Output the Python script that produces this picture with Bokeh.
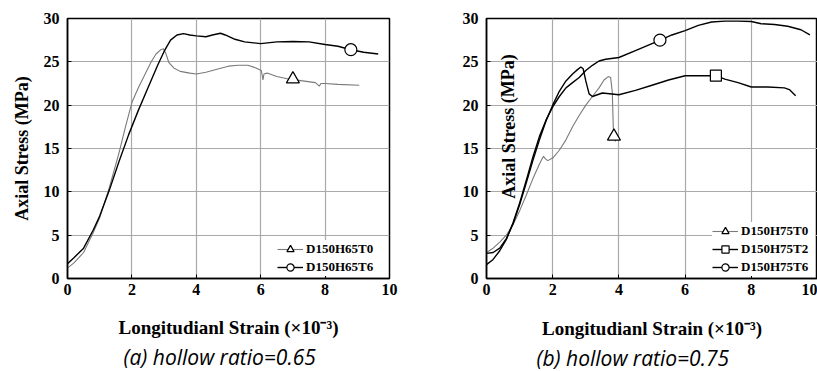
from bokeh.plotting import figure
from bokeh.models import Range1d, FixedTicker, Label, Legend, LegendItem, Title
from bokeh.layouts import row
from bokeh.embed import file_html
from bokeh.resources import INLINE

# ---------------- data: (a) hollow ratio = 0.65 ----------------
a_t0_x = [0, 0.2, 0.5, 0.8, 1.0, 1.3, 1.6, 1.8, 2.0, 2.2, 2.4, 2.6, 2.75, 2.9, 2.98,
          3.05, 3.15, 3.3, 3.5, 3.8, 4.0, 4.3, 4.7, 5.0, 5.3, 5.6, 5.85, 6.02, 6.07,
          6.1, 6.2, 6.5, 6.9, 7.3, 7.7, 7.82, 7.87, 8.0, 8.4, 9.06]
a_t0_y = [1.2, 1.8, 3.0, 5.3, 7.0, 10.5, 14.5, 17.5, 20.3, 22.0, 23.5, 25.0, 25.9, 26.4, 26.5,
          26.0, 24.9, 24.3, 23.9, 23.7, 23.6, 23.8, 24.2, 24.5, 24.6, 24.6, 24.3, 24.0, 22.9,
          23.6, 23.7, 23.3, 23.0, 22.8, 22.6, 22.2, 22.5, 22.5, 22.4, 22.3]
a_t6_x = [0, 0.2, 0.5, 0.8, 1.0, 1.3, 1.6, 1.9, 2.2, 2.5, 2.8, 3.0, 3.2, 3.4, 3.6, 3.8,
          4.0, 4.3, 4.5, 4.75, 4.9, 5.2, 5.5, 6.0, 6.5, 7.0, 7.5, 8.0, 8.4, 8.8, 9.2, 9.65]
a_t6_y = [1.7, 2.4, 3.5, 5.6, 7.2, 10.2, 13.5, 16.6, 19.4, 22.0, 24.6, 26.2, 27.5, 28.1, 28.25, 28.1,
          28.0, 27.9, 28.1, 28.3, 28.1, 27.6, 27.3, 27.1, 27.3, 27.35, 27.3, 27.0, 26.8, 26.4, 26.1, 25.9]
a_t0_mark = ([7.0], [23.0])
a_t6_mark = ([8.8], [26.4])
a_labels = ["D150H65T0", "D150H65T6"]

# ---------------- data: (b) hollow ratio = 0.75 ----------------
b_t0_x = [0, 0.2, 0.4, 0.6, 0.8, 1.0, 1.2, 1.4, 1.6, 1.72, 1.78, 1.85, 2.0, 2.2, 2.4, 2.6,
          2.8, 3.0, 3.2, 3.4, 3.55, 3.68, 3.75, 3.8, 3.83, 3.86, 3.9]
b_t0_y = [3.0, 3.5, 4.2, 5.0, 6.2, 7.8, 9.6, 11.5, 13.2, 14.1, 13.8, 13.6, 13.9, 14.8, 16.0, 17.5,
          18.8, 20.0, 21.0, 22.0, 22.9, 23.3, 23.2, 21.5, 17.5, 16.2, 15.8]
b_t2_x = [0, 0.2, 0.4, 0.6, 0.8, 1.0, 1.2, 1.4, 1.6, 1.8, 2.0, 2.2, 2.4, 2.6, 2.75, 2.85,
          2.92, 3.0, 3.1, 3.2, 3.5, 4.0, 4.5, 5.0, 5.5, 6.0, 6.5, 6.93, 7.2, 7.6, 8.0, 8.5,
          9.0, 9.15, 9.34]
b_t2_y = [2.9, 3.0, 3.5, 4.6, 6.3, 8.5, 11.0, 13.6, 16.0, 18.2, 20.0, 21.6, 22.8, 23.6, 24.1, 24.4,
          24.2, 22.8, 21.3, 21.0, 21.4, 21.2, 21.7, 22.3, 22.9, 23.4, 23.4, 23.4, 23.0, 22.6, 22.1, 22.1,
          22.0, 21.8, 21.1]
b_t6_x = [0, 0.2, 0.4, 0.6, 0.8, 1.0, 1.2, 1.4, 1.6, 1.8, 2.0, 2.2, 2.4, 2.6, 2.8, 3.0,
          3.2, 3.4, 3.6, 4.0, 4.5, 5.0, 5.25, 5.6, 6.0, 6.4, 6.8, 7.2, 7.6, 8.0, 8.3, 8.7,
          9.1, 9.5, 9.77]
b_t6_y = [1.6, 2.2, 3.2, 4.5, 6.4, 8.7, 11.3, 14.0, 16.4, 18.3, 19.8, 21.0, 22.0, 22.6, 23.2, 24.0,
          24.6, 25.1, 25.3, 25.5, 26.3, 27.1, 27.5, 28.1, 28.6, 29.2, 29.6, 29.7, 29.7, 29.65, 29.4, 29.3,
          29.1, 28.7, 28.1]
b_t0_mark = ([3.85], [16.4])
b_t2_mark = ([6.93], [23.4])
b_t6_mark = ([5.24], [27.5])
b_labels = ["D150H75T0", "D150H75T2", "D150H75T6"]

x_ticks = [0, 2, 4, 6, 8, 10]
y_ticks = [0, 5, 10, 15, 20, 25, 30]
x_title = "Longitudianl Strain (\u00d710\u207b\u00b3)"
y_title = "Axial Stress (MPa)"
captions = ["(a) hollow ratio=0.65", "(b) hollow ratio=0.75"]

SERIF = "Liberation Serif"
SANS = "Open Sans"
GRAY = "#7a7a7a"
H = 371


def make_fig(width, bl, br, bt, bb, xl_standoff):
    p = figure(width=width, height=H, x_range=Range1d(0, 10), y_range=Range1d(0, 30),
               output_backend="svg", toolbar_location=None,
               min_border_left=bl, min_border_right=br, min_border_top=bt, min_border_bottom=bb)
    p.xaxis.ticker = FixedTicker(ticks=x_ticks)
    p.yaxis.ticker = FixedTicker(ticks=y_ticks)
    for ax in (p.xaxis, p.yaxis):
        ax.axis_line_color = "black"
        ax.axis_line_width = 1.5
        ax.major_tick_in = 4
        ax.major_tick_out = 0
        ax.major_tick_line_color = "black"
        ax.minor_tick_line_color = None
        ax.major_label_text_font = SERIF
        ax.major_label_text_font_style = "bold"
        ax.major_label_text_font_size = "16px"
        ax.major_label_text_color = "black"
        ax.axis_label_text_font = SERIF
        ax.axis_label_text_font_style = "bold"
        ax.axis_label_text_font_size = "18px"
        ax.axis_label_text_color = "black"
        ax.axis_label_text_line_height = 1.0
        ax.major_label_text_line_height = 1.0
    p.xaxis.axis_label_text_font_size = "19px"
    p.xaxis.major_label_standoff = 5
    p.yaxis.major_label_standoff = 8
    p.xaxis.axis_label = x_title
    p.xaxis.axis_label_standoff = xl_standoff
    p.grid.grid_line_color = "#a9a9a9"
    p.grid.grid_line_width = 1.2
    p.outline_line_color = "black"
    p.outline_line_width = 1.5
    p.background_fill_color = "white"
    p.border_fill_color = "white"
    return p


def caption(p, text, standoff, offset):
    p.add_layout(Title(text=text, align="left", offset=offset, text_font=SANS,
                       text_font_style="italic", text_font_size="21px", text_color="black",
                       text_line_height=1.0, standoff=standoff), "below")


def series(p, xs, ys, mark, marker, color, lw, msize):
    r = p.line(xs, ys, line_color=color, line_width=lw)
    m = p.scatter(mark[0], mark[1], marker=marker, size=msize, fill_color="white",
                  line_color="black", line_width=1.2)
    return [r, m]


def legend(p, items, label_width):
    lg = Legend(items=[LegendItem(label=lab, renderers=rs) for lab, rs in items],
                location="bottom_right", background_fill_color="white",
                background_fill_alpha=1, border_line_color=None,
                label_text_font=SERIF, label_text_font_style="bold",
                label_text_font_size="13px", label_text_color="black",
                glyph_width=26, glyph_height=18, label_height=16, label_width=label_width,
                spacing=0, padding=5, margin=2, label_standoff=3)
    p.add_layout(lg)


# ---------------- left figure ----------------
p1 = make_fig(410, 67, 21, 18, 88, 19)
ra0 = series(p1, a_t0_x, a_t0_y, a_t0_mark, "triangle", GRAY, 1.1, 13)
ra6 = series(p1, a_t6_x, a_t6_y, a_t6_mark, "circle", "black", 1.4, 12)
legend(p1, [(a_labels[0], ra0), (a_labels[1], ra6)], 81)
p1.yaxis.axis_label = y_title
p1.yaxis.axis_label_standoff = 9
caption(p1, captions[0], 1, 56)

# ---------------- right figure ----------------
p2 = make_fig(407, 76, 0, 15, 91, 20)
rb0 = series(p2, b_t0_x, b_t0_y, b_t0_mark, "triangle", GRAY, 1.1, 13)
rb2 = series(p2, b_t2_x, b_t2_y, b_t2_mark, "square", "black", 1.4, 11)
rb6 = series(p2, b_t6_x, b_t6_y, b_t6_mark, "circle", "black", 1.4, 12)
legend(p2, [(b_labels[0], rb0), (b_labels[1], rb2), (b_labels[2], rb6)], 74)
p2.add_layout(Label(x=22, y=152, x_units="screen", y_units="screen", text=y_title,
                    text_font=SERIF, text_font_style="bold", text_font_size="18px",
                    text_color="black", angle=1.5708, text_align="center",
                    text_baseline="middle"))
caption(p2, captions[1], 0, 50)

layout = row(p1, p2)
open("out.html", "w").write(file_html(layout, INLINE))
